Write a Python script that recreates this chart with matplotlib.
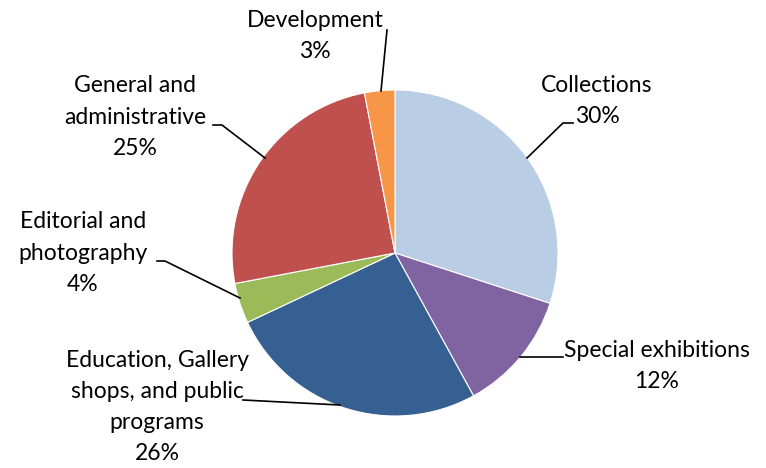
import matplotlib.pyplot as plt

labels = ["Collections", "Special exhibitions", "Education, Gallery\nshops, and public\nprograms",
          "Editorial and\nphotography", "General and\nadministrative", "Development"]
shares = [30, 12, 26, 4, 25, 3]
colors = ["#B9CDE5", "#8064A2", "#376092", "#9BBB59", "#C0504D", "#F79646"]

W, H = 766, 468
fig = plt.figure(figsize=(W / 100, H / 100), dpi=100)
ax = fig.add_axes([0, 0, 1, 1])

cx, cy, r = 395, H - 253, 163
ax.pie(shares, colors=colors, startangle=90, counterclock=False,
       center=(cx, cy), radius=r, frame=True,
       wedgeprops=dict(edgecolor="white", linewidth=0.8))
ax.set_xlim(0, W)
ax.set_ylim(0, H)
ax.set_aspect("equal")
ax.axis("off")

# label text centers (pixels from top-left) and leader lines
text_pos = [(597, 101), (657, 366), (157, 407), (83, 253), (135, 117), (315, 36)]
leaders = [
    [(573, 123), (563, 123), (527, 158)],
    [(563, 357), (520, 357)],
    [(243, 400), (340, 405)],
    [(157, 261), (165, 261), (240, 298)],
    [(213, 125), (222, 125), (265, 158)],
    [(387, 30), (381, 91)],
]

for lab, s, (tx, ty), pts in zip(labels, shares, text_pos, leaders):
    ax.text(tx, H - ty, f"{lab}\n{s}%", ha="center", va="center",
            fontsize=16.5, family=["Lato", "DejaVu Sans"], linespacing=1.6, color="black")
    xs = [p[0] for p in pts]
    ys = [H - p[1] for p in pts]
    ax.plot(xs, ys, color="black", linewidth=1.2)

fig.savefig("out.png", dpi=100)
